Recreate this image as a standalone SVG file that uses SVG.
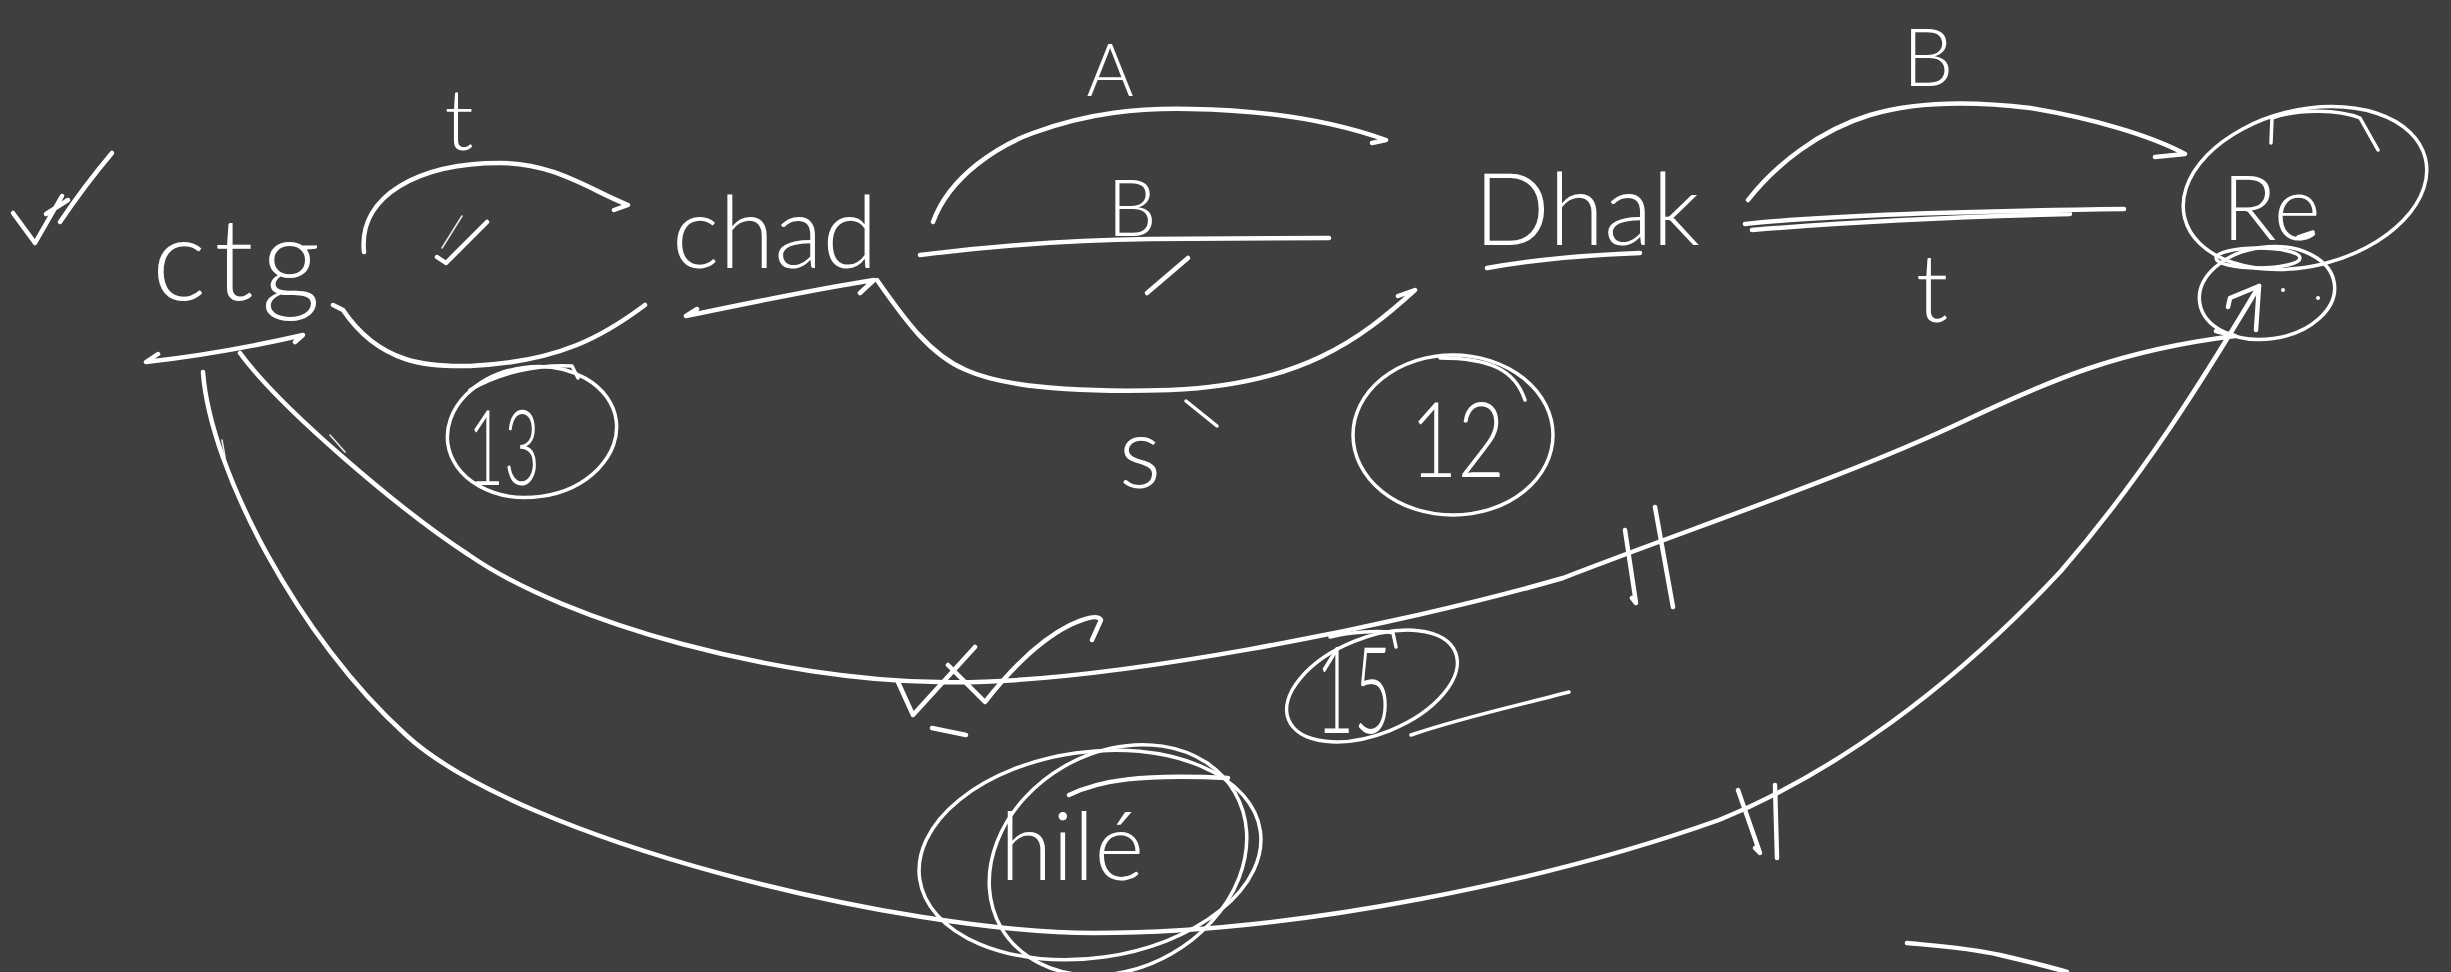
<svg xmlns="http://www.w3.org/2000/svg" width="2451" height="972" viewBox="0 0 2451 972">
<style>
.s{fill:none;stroke:#fff;stroke-width:4.5;stroke-linecap:round;stroke-linejoin:round}
.t{fill:none;stroke:#fff;stroke-width:3.5;stroke-linecap:round;stroke-linejoin:round}
.f{fill:none;stroke:#e8e8e8;stroke-width:1.6;stroke-linecap:round}
.l{fill:#fff;font-family:Lato,"Liberation Sans",sans-serif;font-weight:300}
</style>
<rect width="2451" height="972" fill="#3f3f3f"/>
<g id="marks">
<path class="s" d="M13,213 L35,243 L62,196 M46,214 L68,200 M60,222 Q85,185 112,153"/>
<path class="s" d="M437,257 L446,263 L487,222"/>
<path class="f" d="M442,248 L462,216"/>
<path class="s" d="M898,682 L913,715 L975,647 M948,665 L985,702 C1010,670 1040,640 1070,625 C1085,618 1098,614 1101,620 L1092,640"/>
<path class="s" d="M932,728 L966,735"/>
<path class="s" d="M1147,293 L1188,258"/>
<path class="t" d="M1186,401 L1217,426"/>
<path class="t" d="M1411,735 C1460,718 1520,705 1569,692"/>
<path class="s" d="M1907,943 C1940,946 1970,948 2000,955 C2030,962 2050,967 2067,972"/>
<path class="f" d="M222,440 L225,457 M330,435 L345,452"/>
<path class="t" d="M2298,237 L2313,232"/>
</g>
<g id="connectors">
<path class="s" d="M158,354 L146,362 C200,356 255,346 303,335 L295,342"/>
<path class="s" d="M364,252 C358,195 420,163 500,163 C555,163 590,190 628,205 L614,210"/>
<path class="s" d="M333,305 L343,310 C380,365 430,367 470,366 C560,362 605,335 645,305"/>
<path class="s" d="M697,309 L686,316 C740,305 810,290 874,280 L860,293"/>
<path class="s" d="M877,280 C905,320 930,355 966,370 C1010,390 1100,392 1170,390 C1300,385 1360,340 1415,290 L1398,296"/>
<path class="s" d="M933,222 C950,175 1000,145 1033,133 C1090,112 1140,108 1190,109 C1260,110 1330,120 1386,140 L1372,143"/>
<path class="s" d="M920,255 C1000,245 1080,240 1150,239 L1329,238"/>
<path class="s" d="M1748,200 C1775,165 1820,130 1870,115 C1920,100 1980,102 2030,108 C2090,118 2150,135 2185,154 L2155,157"/>
<path class="s" d="M1745,224 C1800,218 1900,212 2124,209 M1752,230 C1850,222 1950,217 2070,214"/>
<path class="s" d="M240,353 C280,408 400,510 469,555 C570,625 780,680 938,682 C1100,686 1400,625 1563,578 C1700,525 1850,475 1962,422 C2050,380 2120,350 2235,336 L2216,331"/>
<path class="s" d="M203,372 C210,470 300,640 406,735 C520,840 900,933 1094,933 C1300,933 1550,880 1719,820 C1830,775 1950,690 2061,571 C2140,480 2200,385 2259,286"/>
<path class="s" d="M2228,307 L2230,298 L2259,286 L2256,330"/>
<path class="s" d="M1625,530 L1636,603 L1632,598 M1655,507 L1673,607"/>
<path class="s" d="M1738,790 L1760,853 L1755,848 M1775,785 L1777,858"/>
</g>
<g id="ctg">
<text class="l" x="152" y="300" font-size="115" letter-spacing="8">ctg</text>
</g>
<g id="label-t1"><text class="l" x="459" y="150" font-size="85" text-anchor="middle">t</text></g>
<g id="chad">
<text class="l" x="672" y="268" font-size="100">chad</text>
</g>
<g id="label-A"><text class="l" x="1110" y="96" font-size="72" text-anchor="middle">A</text></g>
<g id="label-B1"><text class="l" x="1132" y="236" font-size="78" text-anchor="middle">B</text></g>
<g id="label-s"><text class="l" x="1140" y="488" font-size="100" text-anchor="middle">s</text></g>
<g id="dhak">
<text class="l" x="1474" y="245" font-size="100">Dhak</text>
<path class="s" d="M1487,268 C1530,260 1590,255 1640,253"/>
</g>
<g id="label-B2"><text class="l" x="1928" y="86" font-size="80" text-anchor="middle">B</text></g>
<g id="label-t2"><text class="l" x="1932" y="322" font-size="95" text-anchor="middle">t</text></g>
<g id="re">
<ellipse class="t" cx="2305" cy="188" rx="124" ry="78" transform="rotate(-14 2305 188)"/>
<path class="t" d="M2271,143 L2272,118 C2300,108 2340,110 2360,118 L2378,150"/>
<text class="l" x="2222" y="240" font-size="90">Re</text>
</g>
<g id="re-sub">
<ellipse class="t" cx="2267" cy="293" rx="68" ry="46" transform="rotate(-8 2267 293)"/>
<ellipse class="t" cx="2258" cy="258" rx="42" ry="10"/>
<circle cx="2283" cy="290" r="2" fill="#fff"/>
<circle cx="2318" cy="298" r="2" fill="#fff"/>
</g>
<g id="w13">
<ellipse class="t" cx="532" cy="432" rx="85" ry="65" transform="rotate(-8 532 432)"/>
<path class="t" d="M470,390 C500,372 540,364 572,366 L578,378"/>
<text class="l" x="468" y="485" font-size="105" textLength="72" lengthAdjust="spacingAndGlyphs">13</text>
</g>
<g id="w12">
<ellipse class="t" cx="1453" cy="435" rx="100" ry="80"/>
<path class="t" d="M1440,358 C1490,358 1515,370 1525,400"/>
<text class="l" x="1410" y="477" font-size="105" textLength="95" lengthAdjust="spacingAndGlyphs">12</text>
</g>
<g id="w15">
<ellipse class="t" cx="1372" cy="686" rx="90" ry="48" transform="rotate(-22 1372 686)"/>
<path class="t" d="M1330,637 C1350,632 1380,630 1393,633 L1396,647"/>
<text class="l" x="1316" y="733" font-size="120" textLength="76" lengthAdjust="spacingAndGlyphs">15</text>
</g>
<g id="hile">
<ellipse class="t" cx="1090" cy="855" rx="172" ry="103" transform="rotate(-8 1090 855)"/>
<ellipse class="t" cx="1118" cy="860" rx="135" ry="108" transform="rotate(-30 1118 860)"/>
<path class="s" d="M1069,795 C1100,780 1140,774 1228,778"/>
<text class="l" x="1000" y="880" font-size="95">hilé</text>
</g>
</svg>
